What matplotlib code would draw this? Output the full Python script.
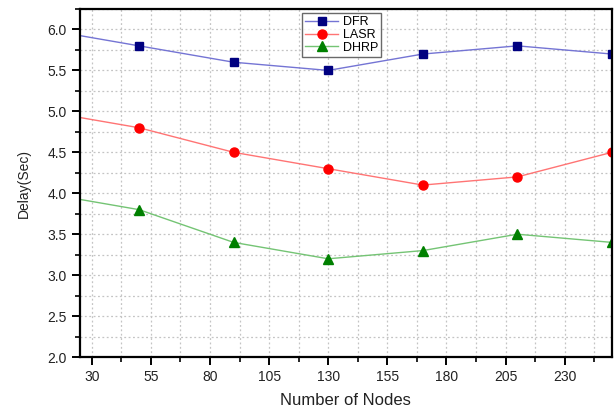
"""delay vs number of nodes"""

import matplotlib
matplotlib.use('Agg')
import matplotlib.pyplot as plt
from matplotlib.ticker import FixedLocator, MultipleLocator

plt.rcParams['font.family'] = ['Liberation Sans', 'DejaVu Sans']

# data (first point lies left of the visible range)
nodes = [10, 50, 90, 130, 170, 210, 250]
dfr = [6.0, 5.8, 5.6, 5.5, 5.7, 5.8, 5.7]
lasr = [5.0, 4.8, 4.5, 4.3, 4.1, 4.2, 4.5]
dhrp = [4.0, 3.8, 3.4, 3.2, 3.3, 3.5, 3.4]

x_major = [30, 55, 80, 105, 130, 155, 180, 205, 230]
x_minor = [42.5, 67.5, 92.5, 117.5, 142.5, 167.5, 192.5, 217.5, 242.5]

fig = plt.figure(figsize=(6.15, 4.09), dpi=100)
ax = fig.add_axes([0.130, 0.127, 0.865, 0.851])

ax.plot(nodes, dfr, color='#7474d4', lw=1.0, marker='s', ms=5.5,
        mfc='#000080', mec='#000080', label='DFR')
ax.plot(nodes, lasr, color='#ff7474', lw=1.0, marker='o', ms=6.5,
        mfc='#ff0000', mec='#ff0000', label='LASR')
ax.plot(nodes, dhrp, color='#74c474', lw=1.0, marker='^', ms=6.5,
        mfc='#008000', mec='#008000', label='DHRP')

ax.xaxis.set_major_locator(FixedLocator(x_major))
ax.xaxis.set_minor_locator(FixedLocator(x_minor))
ax.yaxis.set_major_locator(MultipleLocator(0.5))
ax.yaxis.set_minor_locator(MultipleLocator(0.25))
ax.set_xlim(25, 250)
ax.set_ylim(2.0, 6.25)

ax.grid(which='both', color='#c4c4c4', ls=(0, (1.5, 2)), lw=0.9)
ax.set_axisbelow(True)

for s in ax.spines.values():
    s.set_linewidth(1.6)
ax.tick_params(which='major', direction='out', length=6, width=1.4, labelsize=10,
               colors='black', labelcolor='#222222')
ax.tick_params(which='minor', direction='out', length=3.5, width=1.2)

ax.set_xlabel('Number of Nodes', fontsize=12, color='#222222', labelpad=6)
ax.set_ylabel('Delay(Sec)', fontsize=10, color='#222222', labelpad=12)

leg = ax.legend(loc='upper left', bbox_to_anchor=(0.413, 0.995), fontsize=9,
                frameon=True, fancybox=False, edgecolor='#444444',
                borderpad=0.25, labelspacing=0.05, handlelength=2.6,
                handletextpad=0.4, borderaxespad=0.2)
leg.get_frame().set_linewidth(1.0)

fig.savefig('out.png', dpi=100)
